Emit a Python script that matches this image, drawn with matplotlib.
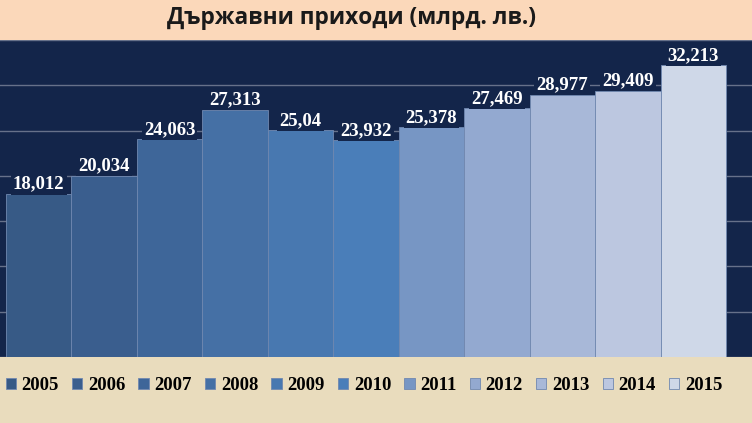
import matplotlib.pyplot as plt
from matplotlib.patches import Rectangle

years = ["2005", "2006", "2007", "2008", "2009", "2010",
         "2011", "2012", "2013", "2014", "2015"]
revenue = [18.012, 20.034, 24.063, 27.313, 25.04, 23.932,
           25.378, 27.469, 28.977, 29.409, 32.213]
colors = ["#375a86", "#3a5e8e", "#3e6699", "#4570a5", "#4878b0", "#4a7eb9",
          "#7796c4", "#93a9d0", "#a8b8d8", "#bcc7e0", "#cfd8e8"]

navy = "#13254a"

fig = plt.figure(figsize=(7.52, 4.23), dpi=100)

# background bands
fig.patches.append(Rectangle((0, 0.905), 1, 0.095, transform=fig.transFigure,
                             facecolor="#fbd8ba", edgecolor="none", zorder=0))
fig.patches.append(Rectangle((0, 0.0), 1, 0.157, transform=fig.transFigure,
                             facecolor="#e9dcbd", edgecolor="none", zorder=0))

ax = fig.add_axes([0, 0.156, 1, 0.749])
ax.set_facecolor(navy)

for i, (y, v, c) in enumerate(zip(years, revenue, colors)):
    ax.bar(i, v, width=1, align="edge", color=c, edgecolor="#7088b0",
           linewidth=0.6, label=y, zorder=2)
    ax.annotate(str(v).replace(".", ","), (i + 0.5, v), xytext=(0, 1),
                textcoords="offset points", ha="center", va="bottom",
                color="white", fontsize=13.5, fontweight="bold",
                family="Liberation Serif", zorder=3,
                bbox=dict(facecolor=navy, edgecolor="none", pad=1.5))

ax.set_xlim(-0.092, 11.397)
ax.set_ylim(0, 35)
ax.set_yticks(range(0, 36, 5))
ax.yaxis.grid(True, color="#66718a", linewidth=1, zorder=1)
ax.set_axisbelow(True)
ax.tick_params(length=0, labelleft=False, labelbottom=False)
for s in ax.spines.values():
    s.set_visible(False)

fig.text(0.467, 0.957, "Държавни приходи (млрд. лв.)", ha="center", va="center",
         fontsize=16.3, fontweight="bold", family="Open Sans", color="#1a1a1a")

fig.legend(loc="center", bbox_to_anchor=(0.484, 0.088), ncol=11, frameon=False,
           handlelength=0.55, handleheight=0.55, handletextpad=0.3,
           columnspacing=0.7, borderpad=0.2,
           prop={"family": "Liberation Serif", "weight": "bold", "size": 13.5})

fig.savefig("out.png", dpi=100, facecolor="white")
